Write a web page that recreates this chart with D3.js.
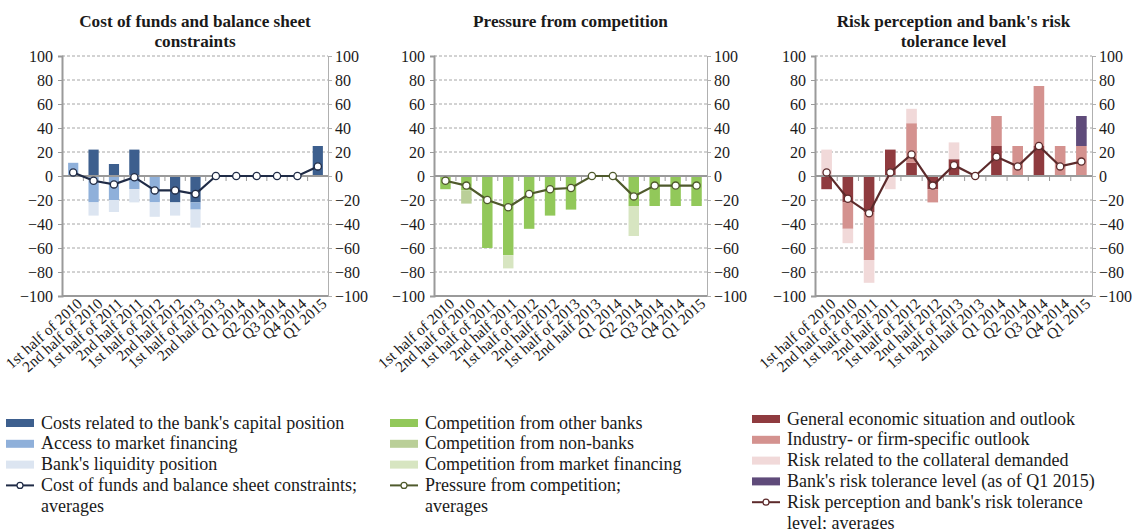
<!DOCTYPE html>
<html><head><meta charset="utf-8">
<script src="https://cdn.jsdelivr.net/npm/d3@7"></script>
<style>body{margin:0;background:#fff}svg{display:block;font-family:"Liberation Serif","Times New Roman",serif}</style>
</head><body><svg id="c" width="1133" height="529"></svg>
<script>
const categories = ["1st half of 2010","2nd half of 2010","1st half of 2011","2nd half 2011","1st half of 2012","2nd half 2012","1st half of 2013","2nd half 2013","Q1 2014","Q2 2014","Q3 2014","Q4 2014","Q1 2015"];
const yTicks = [-100,-80,-60,-40,-20,0,20,40,60,80,100];

// Panel 1: Cost of funds and balance sheet constraints
const capitalPosition = [0,22,10,22,0,-22,-22,0,0,0,0,0,25];
const marketFinancing = [11,-22,-20,-11,-22,0,-6,0,0,0,0,0,0];
const liquidityPosition = [0,-11,-10,-11,-12,-11,-15,0,0,0,0,0,0];
const costOfFundsAvg = [3,-4,-7,-1,-12,-12,-15,0,0,0,0,0,8];

// Panel 2: Pressure from competition
const otherBanks = [-11,-12,-60,-66,-44,-33,-28,0,0,-25,-25,-25,-25];
const nonBanks = [0,-11,0,0,0,0,0,0,0,0,0,0,0];
const marketFinancingComp = [0,0,0,-11,0,0,0,0,0,-25,0,0,0];
const competitionAvg = [-4,-8,-20,-26,-15,-11,-10,0,0,-17,-8,-8,-8];

// Panel 3: Risk perception and bank's risk tolerance level
const generalEconomic = [-11,-22,-30,22,11,-11,14,0,25,0,25,0,0];
const industrySpecific = [0,-22,-40,0,33,-11,0,0,25,25,50,25,25];
const collateralRisk = [22,-12,-19,-11,12,0,14,0,0,0,0,0,0];
const riskTolerance = [0,0,0,0,0,0,0,0,0,0,0,0,25];
const riskAvg = [3,-19,-31,3,18,-8,9,0,16,8,25,8,12];

const panels = [
  {title:["Cost of funds and balance sheet","constraints"], range:[63,328],
   series:[
     {name:"Costs related to the bank's capital position", values:capitalPosition, color:"#3d5f8e"},
     {name:"Access to market financing", values:marketFinancing, color:"#8fb0da"},
     {name:"Bank's liquidity position", values:liquidityPosition, color:"#dce5f1"}],
   avg:{name:["Cost of funds and balance sheet constraints;","averages"], values:costOfFundsAvg, color:"#1f2b46"},
   legendX:6, legendY:423, legendStep:20.8},
  {title:["Pressure from competition"], range:[435,707],
   series:[
     {name:"Competition from other banks", values:otherBanks, color:"#92c85a"},
     {name:"Competition from non-banks", values:nonBanks, color:"#bacf98"},
     {name:"Competition from market financing", values:marketFinancingComp, color:"#d7e5c1"}],
   avg:{name:["Pressure from competition;","averages"], values:competitionAvg, color:"#4f5a2c"},
   legendX:390, legendY:423, legendStep:20.8},
  {title:["Risk perception and bank's risk","tolerance level"], range:[816,1092],
   series:[
     {name:"General economic situation and outlook", values:generalEconomic, color:"#8f3b3f"},
     {name:"Industry- or firm-specific outlook", values:industrySpecific, color:"#d4928f"},
     {name:"Risk related to the collateral demanded", values:collateralRisk, color:"#f1d9d9"},
     {name:"Bank's risk tolerance level (as of Q1 2015)", values:riskTolerance, color:"#5f4b7a"}],
   avg:{name:["Risk perception and bank's risk tolerance","level; averages"], values:riskAvg, color:"#5c2a2b"},
   legendX:752, legendY:419, legendStep:20.8}
];

const svg = d3.select("#c");
const y = d3.scaleLinear().domain([-100,100]).range([296,56]);
const fmt = d => d < 0 ? "\u2212" + Math.abs(d) : String(d);
const gray = "#9a9a9a";

panels.forEach(p => {
  const g = svg.append("g");
  const x = d3.scaleBand().domain(categories).range(p.range).paddingInner(0.5).paddingOuter(0.25);
  const [xl, xr] = [p.range[0]-1, p.range[1]];

  // title
  const tt = g.append("text").attr("x", (xl+xr)/2).attr("y", 27).attr("text-anchor","middle")
    .attr("font-weight","bold").attr("font-size",17.2).attr("fill","#1a1a1a");
  p.title.forEach((t,i) => tt.append("tspan").attr("x",(xl+xr)/2).attr("dy", i?20:0).text(t));

  // grid
  g.selectAll(".grid").data(yTicks.filter(d => d!==0 && d!==-100)).join("line")
    .attr("x1", xl).attr("x2", xr).attr("y1", d=>y(d)).attr("y2", d=>y(d))
    .attr("stroke", "#a6a6a6").attr("stroke-width",1).attr("stroke-dasharray","3,2");

  // left axis
  const la = g.append("g").attr("transform",`translate(${xl},0)`)
    .call(d3.axisLeft(y).tickValues(yTicks).tickSize(4).tickPadding(5).tickFormat(fmt));
  la.select(".domain").attr("stroke",gray).attr("stroke-width",2);
  la.selectAll(".tick line").attr("stroke",gray);
  la.selectAll("text").attr("font-size",16).attr("fill","#1a1a1a").attr("font-family","Liberation Serif");

  // right axis
  const ra = g.append("g").attr("transform",`translate(${xr},0)`)
    .call(d3.axisRight(y).tickValues(yTicks).tickSize(4).tickPadding(3).tickFormat(fmt));
  ra.select(".domain").attr("stroke","#b0b0b0").attr("stroke-width",1);
  ra.selectAll(".tick line").attr("stroke","#b0b0b0");
  ra.selectAll("text").attr("font-size",16).attr("fill","#1a1a1a").attr("font-family","Liberation Serif");

  // bottom line
  g.append("line").attr("x1",xl).attr("x2",xr).attr("y1",y(-100)).attr("y2",y(-100))
    .attr("stroke",gray).attr("stroke-width",2);

  // category ticks on the zero line (band boundaries)
  const step = x.step();
  const bounds = d3.range(1, categories.length).map(i => x(categories[i]) - step*x.paddingInner()/2);
  g.selectAll(".ztick").data(bounds).join("line")
    .attr("x1",d=>d).attr("x2",d=>d).attr("y1",y(0)).attr("y2",y(0)+5)
    .attr("stroke",gray).attr("stroke-width",1);

  // stacked bars
  const rows = categories.map((c,i) => { const o = {cat:c}; p.series.forEach((s,k)=> o["s"+k]=s.values[i]); return o; });
  const keys = p.series.map((s,k)=>"s"+k);
  const stacked = d3.stack().keys(keys).offset(d3.stackOffsetDiverging)(rows);
  stacked.forEach((layer,k) => {
    g.append("g").selectAll("rect").data(layer.filter(d => d[1]!==d[0])).join("rect")
      .attr("x", d => x(d.data.cat)).attr("width", x.bandwidth())
      .attr("y", d => y(Math.max(d[0],d[1]))).attr("height", d => Math.abs(y(d[0])-y(d[1])))
      .attr("fill", p.series[k].color);
  });

  // zero line
  g.append("line").attr("x1",xl).attr("x2",xr).attr("y1",y(0)).attr("y2",y(0))
    .attr("stroke",gray).attr("stroke-width",2);

  // average line
  const line = d3.line().x((d,i)=>x(categories[i])+x.bandwidth()/2).y(d=>y(d));
  g.append("path").datum(p.avg.values).attr("d",line).attr("fill","none")
    .attr("stroke",p.avg.color).attr("stroke-width",2.2);
  g.selectAll(".pt").data(p.avg.values).join("circle")
    .attr("cx",(d,i)=>x(categories[i])+x.bandwidth()/2).attr("cy",d=>y(d)).attr("r",3.6)
    .attr("fill","#fff").attr("stroke",p.avg.color).attr("stroke-width",1.3);

  // x labels
  g.selectAll(".xl").data(categories).join("text")
    .attr("transform", d => `translate(${x(d)+x.bandwidth()/2+10},${y(-100)+9}) rotate(-42)`)
    .attr("text-anchor","end").attr("font-size",15.3).attr("fill","#1a1a1a").text(d=>d);

  // legend
  const lg = g.append("g");
  p.series.forEach((s,k) => {
    const ly = p.legendY + k*p.legendStep;
    lg.append("rect").attr("x",p.legendX).attr("y",ly-4).attr("width",28).attr("height",8).attr("fill",s.color);
    lg.append("text").attr("x",p.legendX+35).attr("y",ly+5.5).attr("font-size",18).attr("fill","#1a1a1a").text(s.name);
  });
  const ly = p.legendY + p.series.length*p.legendStep;
  lg.append("line").attr("x1",p.legendX).attr("x2",p.legendX+28).attr("y1",ly).attr("y2",ly)
    .attr("stroke",p.avg.color).attr("stroke-width",2);
  lg.append("circle").attr("cx",p.legendX+14).attr("cy",ly).attr("r",3).attr("fill","#fff")
    .attr("stroke",p.avg.color).attr("stroke-width",1.2);
  const at = lg.append("text").attr("x",p.legendX+35).attr("y",ly+5.5).attr("font-size",18).attr("fill","#1a1a1a");
  p.avg.name.forEach((t,i)=> at.append("tspan").attr("x",p.legendX+35).attr("dy",i?20.8:0).text(t));
});
</script></body></html>
